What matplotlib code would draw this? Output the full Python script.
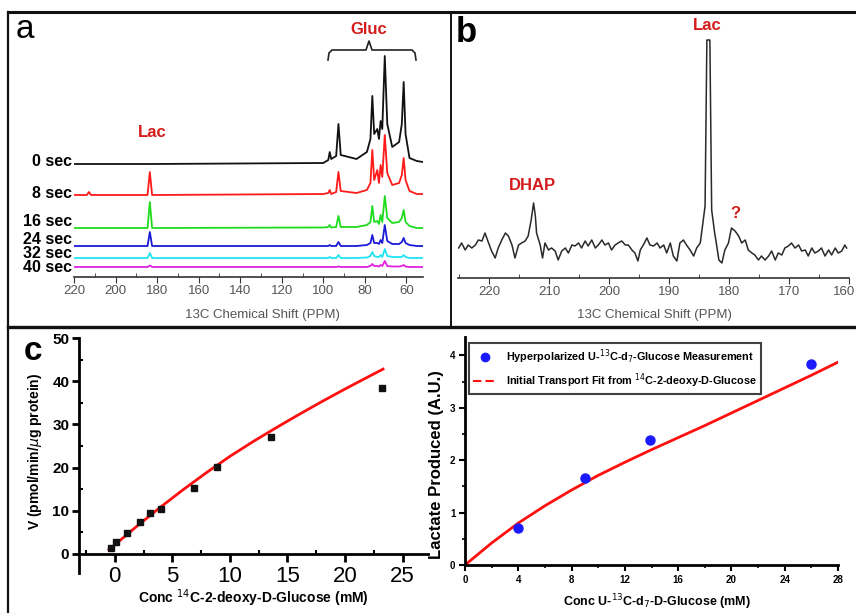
import matplotlib
matplotlib.use('Agg')
import matplotlib.pyplot as plt
from matplotlib.lines import Line2D
from matplotlib.ticker import MultipleLocator
import matplotlib.transforms as mtrans
import numpy as np

plt.rcParams['font.family'] = ['Liberation Sans', 'DejaVu Sans']

W, H = 856, 613

# ---- panel a: 13C spectra over time (heights above each baseline) ----
ppm_a = [220, 213.8, 212.8, 211.8, 184.6, 183.5, 182.4, 100, 97.6, 96.9, 96.2, 93.8, 92.7, 91.6,
         84, 79, 77.3, 76.4, 75.5, 74.0, 73.2, 72.4, 71.6, 70.4, 69.2, 66.8, 63.5, 62.2,
         61.3, 60.4, 58.5, 55, 52]
sec_labels = ['0 sec', '8 sec', '16 sec', '24 sec', '32 sec', '40 sec']
h_0s = [0, 0, 0, 0, 0, 0, 0, 1, 4, 12, 5, 8, 40, 9, 5, 12, 25, 68, 30, 35, 25, 43, 35, 108, 40,
        17, 22, 40, 82, 30, 6, 3, 2]
h_8s = [0, 0, 3, 0, 0, 23, 0, 1, 2, 5, 1, 3, 23, 4, 2, 5, 12, 45, 15, 25, 12, 30, 18, 60, 22,
        10, 12, 20, 37, 15, 4, 1, 1]
h_16s = [0, 0, 0, 0, 0, 26, 0, 0.5, 1, 3, 0.5, 1, 12, 1, 1, 3, 6, 22, 6, 7, 4, 13, 6, 32, 10,
         5, 6, 10, 18, 6, 2, 0, 0]
h_24s = [0, 0, 0, 0, 0, 14, 0, 0, 0, 1, 0, 0, 4, 0, 0, 1, 3, 11, 3, 3, 2, 6, 3, 21, 5,
         2, 2, 4, 8, 3, 1, 0, 0]
h_32s = [0, 0, 0, 0, 0, 5, 0, 0, 0, 1, 0, 0, 3, 0, 0, 0.5, 2, 6, 2, 1, 1, 3, 1, 9, 2,
         1, 1, 1, 3, 1, 0, 0, 0]
h_40s = [0, 0, 0, 0, 0, 1.5, 0, 0, 0, 0, 0, 0, 0.5, 0, 0, 0, 1, 3, 1, 1, 0.5, 2, 1, 6, 1,
         0.5, 0.5, 1, 2, 0.5, 0, 0, 0]
offsets_a = [113, 82, 49, 31, 19, 10]
colors_a = ['#111111', '#ff1a1a', '#1fdc1f', '#1a1ad8', '#20e4f4', '#e020e0']

# ---- panel b: single spectrum trace ----
ppm_b = [225.1, 224.6, 224.0, 223.5, 222.9, 222.3, 221.8, 221.2, 220.7, 220.1, 219.6, 219.0,
         218.5, 217.9, 217.3, 216.8, 216.2, 215.7, 215.1, 214.6, 214.0, 213.5, 213.0, 212.6,
         212.3, 212.1, 211.5, 211.1, 210.7, 210.1, 209.6, 209.0, 208.5, 207.9, 207.3, 206.8,
         206.2, 205.7, 205.1, 204.6, 204.0, 203.5, 202.9, 202.3, 201.8, 201.2, 200.7, 200.1,
         199.6, 199.0, 198.5, 197.9, 197.3, 196.8, 196.2, 195.7, 195.2, 194.8, 194.3, 193.7,
         193.2, 192.6, 192.0, 191.5, 190.9, 190.4, 189.8, 189.3, 188.7, 188.2, 187.6, 187.1,
         186.5, 185.9, 185.4, 184.8, 184.3, 184.0, 183.7, 183.2, 182.9, 182.4, 182.0, 181.7,
         181.2, 180.7, 180.1, 179.6, 179.0, 178.4, 177.9, 177.3, 176.8, 176.2, 175.7, 175.1,
         174.6, 174.0, 173.4, 172.9, 172.3, 171.8, 171.2, 170.7, 170.1, 169.6, 169.0, 168.4,
         167.9, 167.3, 166.8, 166.2, 165.7, 165.1, 164.6, 164.0, 163.4, 162.9, 162.3, 161.8,
         161.2, 160.7, 160.4]
h_b = [0, 5, -2, 3, 0, 3, 8, 7, 15, 5, -3, -10,
       0, 8, 15, 12, 3, -10, 3, 5, 7, 12, 28, 45,
       32, 15, 3, -10, 5, -2, 0, -3, -12, -3, 0, -5,
       3, 2, 5, 0, 7, 2, 8, 0, 3, 8, 3, 5,
       -2, 3, 5, 7, 3, 3, -2, -5, -13, -2, 3, 10,
       3, 2, 5, 0, 3, -5, 5, -8, -13, 5, 8, 3,
       -2, -8, 0, 5, 28, 42, 208, 208, 38, 15, 0, -12,
       -15, -2, 5, 20, 17, 12, 5, 8, -2, -5, -7, -12,
       -8, -12, -8, -3, -12, -5, -7, 0, 2, 5, 0, 3,
       -3, -2, -8, 0, -5, -3, 0, -8, -2, -7, 0, -5,
       -3, 3, 0]

# ---- panel c left: 14C-2-deoxy-D-glucose uptake ----
conc_2dg = [-0.3, 0.1, 1.1, 2.2, 3.1, 4.0, 6.9, 8.9, 13.6, 23.2]
v_2dg = [1.4, 2.8, 4.8, 7.5, 9.5, 10.5, 15.3, 20.1, 27.0, 38.4]
fit_x = [-0.5, 0, 2, 4, 6, 8, 10, 12, 14, 16, 18, 20, 22, 23.3]
fit_y = [1.0, 2.1, 6.6, 10.9, 15.0, 18.9, 22.6, 26.0, 29.2, 32.3, 35.3, 38.2, 41.0, 42.8]

# ---- panel c right: hyperpolarized lactate ----
conc_glc = [4.0, 9.0, 13.9, 26.0]
lactate = [0.70, 1.66, 2.38, 3.83]
tfit_x = [0, 2, 4, 6, 8, 10, 12, 14, 16, 18, 20, 22, 24, 26, 28]
tfit_y = [0, 0.42, 0.8, 1.13, 1.43, 1.71, 1.96, 2.2, 2.43, 2.66, 2.9, 3.14, 3.38, 3.62, 3.87]


def box(l, t, r, b):
    return [l / W, 1 - b / H, (r - l) / W, (b - t) / H]


def fx(px):
    return px / W


def fy(py):
    return 1 - py / H


RED = '#d41c1c'
fig = plt.figure(figsize=(W / 100, H / 100), dpi=100)

# panel frames
for xs, ys, lw in [([8, 856], [12, 12], 2.2), ([8, 8], [12, 613], 1.6),
                   ([451, 451], [12, 327], 1.4), ([8, 856], [327, 327], 2.4)]:
    fig.add_artist(Line2D([fx(v) for v in xs], [fy(v) for v in ys], color='#111111',
                          lw=lw, transform=fig.transFigure))

# ---------------- panel a ----------------
ax = fig.add_axes(box(74, 22, 423, 277))
for hs, off, c in zip([h_0s, h_8s, h_16s, h_24s, h_32s, h_40s], offsets_a, colors_a):
    ax.plot(ppm_a, np.array(hs) + off, color=c, lw=1.3)
ax.set_xlim(220, 52)
ax.set_ylim(0, 255)
for s in ['top', 'right', 'left']:
    ax.spines[s].set_visible(False)
ax.spines['bottom'].set_color('#333333')
ax.spines['bottom'].set_linewidth(1.2)
ax.set_yticks([])
ax.set_xticks(range(220, 59, -20))
ax.xaxis.set_minor_locator(MultipleLocator(10))
ax.tick_params(axis='x', which='major', direction='out', length=4, color='#333333',
               labelsize=9.5, labelcolor='#555555', pad=2)
ax.tick_params(axis='x', which='minor', direction='in', length=3, color='#333333')
ax.patch.set_alpha(0)

sec_y = [161, 194, 222, 239, 254, 268]
for lab, yy in zip(sec_labels, sec_y):
    fig.text(fx(72), fy(yy), lab, ha='right', va='center', fontsize=11.5, fontweight='bold')

fig.text(fx(262), fy(315), '13C Chemical Shift (PPM)', ha='center', va='center',
         fontsize=9.5, color='#555555')
fig.text(fx(25), fy(29), 'a', ha='center', va='center', fontsize=24)
fig.text(fx(369), fy(29), 'Gluc', ha='center', va='center', fontsize=12, fontweight='bold',
         color=RED)
fig.text(fx(152), fy(132), 'Lac', ha='center', va='center', fontsize=12, fontweight='bold',
         color=RED)
# brace over glucose peaks
bx = [328, 329, 332, 366, 369, 372, 412, 415, 416]
by = [60, 53, 50, 50, 41, 50, 50, 53, 60]
fig.add_artist(Line2D([fx(v) for v in bx], [fy(v) for v in by], color='#222222', lw=1.2,
                      transform=fig.transFigure))

# ---------------- panel b ----------------
axb = fig.add_axes(box(458, 22, 849, 278))
axb.plot(ppm_b, np.array(h_b) + 30, color='#2a2a2a', lw=1.1)
axb.set_xlim(225.2, 160)
axb.set_ylim(0, 256)
for s in ['top', 'right', 'left']:
    axb.spines[s].set_visible(False)
axb.spines['bottom'].set_color('#333333')
axb.spines['bottom'].set_linewidth(1.2)
axb.set_yticks([])
axb.set_xticks(range(220, 159, -10))
axb.xaxis.set_minor_locator(MultipleLocator(5))
axb.tick_params(axis='x', which='major', direction='out', length=4, color='#333333',
                labelsize=9.5, labelcolor='#555555', pad=2)
axb.tick_params(axis='x', which='minor', direction='in', length=3, color='#333333')
axb.patch.set_alpha(0)
# keep the last label inside the canvas
last = axb.get_xticklabels()[-1]
last.set_transform(last.get_transform() +
                   mtrans.ScaledTranslation(-5 / 100, 0, fig.dpi_scale_trans))

fig.text(fx(654), fy(315), '13C Chemical Shift (PPM)', ha='center', va='center',
         fontsize=9.5, color='#555555')
fig.text(fx(466), fy(32), 'b', ha='center', va='center', fontsize=25, fontweight='bold')
fig.text(fx(707), fy(25), 'Lac', ha='center', va='center', fontsize=12, fontweight='bold',
         color=RED)
fig.text(fx(532), fy(185), 'DHAP', ha='center', va='center', fontsize=12, fontweight='bold',
         color=RED)
fig.text(fx(735), fy(213), '?', ha='center', va='center', fontsize=12, fontweight='bold',
         color=RED)

# ---------------- panel c left ----------------
ax1 = fig.add_axes(box(79, 338, 428, 573))
ax1.plot(fit_x, fit_y, color='#ff1010', lw=2, zorder=2)
ax1.plot(conc_2dg, v_2dg, 's', color='#111111', ms=5, zorder=3)
ax1.set_xlim(-3.1, 27.2)
ax1.set_ylim(-4.4, 50)
ax1.spines['top'].set_visible(False)
ax1.spines['right'].set_visible(False)
ax1.spines['bottom'].set_position(('data', 0))
ax1.spines['left'].set_linewidth(2)
ax1.spines['bottom'].set_linewidth(2)
ax1.set_xticks(range(0, 26, 5))
ax1.set_yticks(range(0, 51, 10))
ax1.xaxis.set_minor_locator(MultipleLocator(2.5))
ax1.yaxis.set_minor_locator(MultipleLocator(5))
ax1.tick_params(axis='x', which='major', direction='out', length=6, width=2, labelsize=16,
                pad=3)
ax1.tick_params(axis='y', which='major', direction='out', length=5, width=2, labelsize=11,
                pad=2)
ax1.tick_params(which='minor', direction='in', length=3, width=1.5)
for t in ax1.get_yticklabels():
    t.set_fontweight('bold')
ax1.patch.set_alpha(0)

fig.text(fx(253), fy(598), r'Conc $^{14}$C-2-deoxy-D-Glucose (mM)', ha='center', va='center',
         fontsize=10, fontweight='bold')
fig.text(fx(35), fy(451), r'V (pmol/min/$\mu$g protein)', ha='center', va='center',
         fontsize=10, fontweight='bold', rotation=90)
fig.text(fx(33), fy(352), 'c', ha='center', va='center', fontsize=24, fontweight='bold')

# ---------------- panel c right ----------------
ax2 = fig.add_axes(box(465, 337, 838, 565))
ax2.plot(tfit_x, tfit_y, color='#ff1010', lw=2, zorder=2)
ax2.plot(conc_glc, lactate, 'o', color='#1a1aff', ms=6.5, zorder=3)
ax2.set_xlim(0, 28)
ax2.set_ylim(0, 4.35)
ax2.spines['top'].set_visible(False)
ax2.spines['right'].set_visible(False)
ax2.spines['left'].set_linewidth(2)
ax2.spines['bottom'].set_linewidth(2)
ax2.set_xticks(range(0, 29, 4))
ax2.set_yticks(range(0, 5))
ax2.xaxis.set_minor_locator(MultipleLocator(2))
ax2.yaxis.set_minor_locator(MultipleLocator(0.5))
ax2.tick_params(which='major', direction='out', length=4, width=1.5, labelsize=7, pad=3)
ax2.tick_params(which='minor', direction='out', length=2.5, width=1.2)
for t in ax2.get_xticklabels() + ax2.get_yticklabels():
    t.set_fontweight('bold')
ax2.patch.set_alpha(0)

handles = [Line2D([], [], marker='o', ls='none', color='#1a1aff', ms=6),
           Line2D([], [], color='#ff1010', lw=1.5, ls=(0, (4, 2)))]
labels = [r'Hyperpolarized U-$^{13}$C-d$_7$-Glucose Measurement',
          r'Initial Transport Fit from $^{14}$C-2-deoxy-D-Glucose']
leg = ax2.legend(handles, labels, loc='upper left', bbox_to_anchor=(fx(469), fy(343)),
                 bbox_transform=fig.transFigure, borderaxespad=0, fancybox=False,
                 prop={'size': 7.8, 'weight': 'bold'}, handlelength=2.2, borderpad=0.4,
                 labelspacing=0.5)
leg.get_frame().set_edgecolor('#111111')
leg.get_frame().set_linewidth(1.5)

fig.text(fx(657), fy(602), r'Conc U-$^{13}$C-d$_7$-D-Glucose (mM)', ha='center', va='center',
         fontsize=9, fontweight='bold')
fig.text(fx(437), fy(465), 'Lactate Produced (A.U.)', ha='center', va='center',
         fontsize=12, fontweight='bold', rotation=90)

fig.savefig('out.png', dpi=100)
